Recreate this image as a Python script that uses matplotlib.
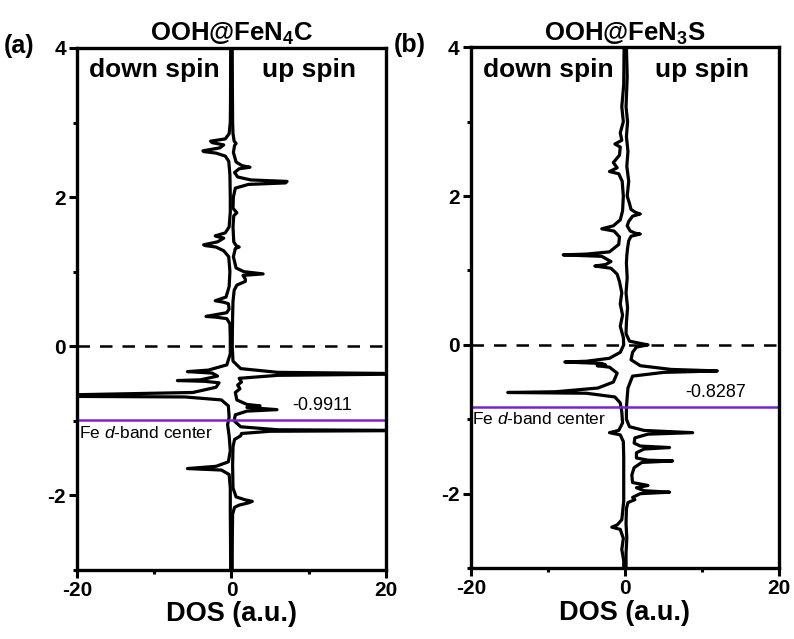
import numpy as np
import matplotlib
matplotlib.use("Agg")
import matplotlib.pyplot as plt
from matplotlib.ticker import MultipleLocator

plt.rcParams['font.family'] = ['Liberation Sans', 'DejaVu Sans']
plt.rcParams['mathtext.fontset'] = 'custom'
plt.rcParams['mathtext.rm'] = 'Liberation Sans'
plt.rcParams['mathtext.bf'] = 'Liberation Sans:bold'
plt.rcParams['mathtext.it'] = 'Liberation Sans:italic'
plt.rcParams['axes.unicode_minus'] = False

#%% Datos

# Panel (a): OOH@FeN4C
e_a_up = [4.0, 3.5, 3.0, 2.85, 2.75, 2.72, 2.69, 2.6, 2.47, 2.42, 2.40, 2.38, 2.33, 2.27, 2.23, 2.21,
          2.19, 2.17, 2.12, 2.0, 1.85, 1.79, 1.75, 1.6, 1.4, 1.35, 1.33, 1.31, 1.2, 1.05, 1.0, 0.97,
          0.95, 0.90, 0.87, 0.82, 0.75, 0.6, 0.4, 0.2, 0.0, -0.2, -0.3, -0.35, -0.37, -0.39, -0.43,
          -0.48, -0.52, -0.57, -0.62, -0.72, -0.78, -0.80, -0.82, -0.85, -0.87, -0.92, -1.0, -1.08,
          -1.12, -1.13, -1.14, -1.17, -1.2, -1.25, -1.35, -1.6, -1.9, -2.02, -2.06, -2.08, -2.10,
          -2.13, -2.16, -2.25, -2.5, -2.8, -3.0]
dos_a_up = [0.1, 0.12, 0.15, 0.2, 0.35, 0.6, 0.4, 0.25, 0.6, 1.4, 2.4, 1.0, 0.4, 0.8, 2.5, 7.2,
            7.0, 2.2, 0.5, 0.25, 0.2, 0.7, 0.3, 0.2, 0.3, 0.6, 1.0, 0.5, 0.25, 0.6, 1.6, 4.1,
            1.5, 1.8, 1.8, 0.7, 0.35, 0.2, 0.15, 0.12, 0.1, 0.2, 1.2, 6, 25, 6, 1.0,
            1.3, 0.8, 1.1, 0.5, 0.7, 2.0, 3.7, 2.0, 5.9, 2.0, 0.5, 0.35, 1.2,
            6, 25, 5, 1.3, 1.2, 0.4, 0.2, 0.15, 0.2, 0.6, 1.8, 2.7, 2.2,
            1.0, 0.4, 0.15, 0.12, 0.1, 0.1]

e_a_dn = [4.0, 3.3, 3.0, 2.85, 2.78, 2.75, 2.73, 2.70, 2.66, 2.62, 2.61, 2.59, 2.55, 2.48, 2.3, 2.0,
          1.8, 1.6, 1.52, 1.48, 1.47, 1.45, 1.40, 1.36, 1.35, 1.33, 1.28, 1.2, 1.0, 0.8, 0.66, 0.61,
          0.59, 0.57, 0.5, 0.45, 0.40, 0.39, 0.37, 0.3, 0.1, -0.1, -0.25, -0.32, -0.34, -0.36, -0.40,
          -0.45, -0.46, -0.47, -0.49, -0.55, -0.62, -0.66, -0.67, -0.68, -0.72, -0.8, -0.95, -1.05,
          -1.2, -1.4, -1.55, -1.61, -1.64, -1.66, -1.72, -1.9, -2.2, -2.6, -3.0]
dos_a_dn = [-0.1, -0.12, -0.15, -0.3, -0.8, -2.7, -2.5, -1.0, -1.5, -3.7, -3.6, -2.0, -0.8, -0.35, -0.2, -0.15,
            -0.15, -0.3, -0.8, -2.1, -1.8, -1.0, -1.8, -3.6, -3.4, -2.0, -1.0, -0.35, -0.2, -0.3, -0.7, -2.1,
            -1.0, -0.4, -0.3, -0.6, -3.3, -2.0, -0.6, -0.2, -0.15, -0.15, -0.6, -3.0, -5.7, -2.5, -1.8,
            -4, -7, -3.5, -1.6, -2.0, -5, -25, -25, -6, -1.3, -0.4, -0.3, -0.5,
            -0.3, -0.15, -0.4, -2.0, -5.7, -1.3, -0.3, -0.15, -0.15, -0.12, -0.1]

dband_a = -0.9911

# Panel (b): OOH@FeN3S
e_b_up = [4.0, 3.6, 3.2, 3.0, 2.8, 2.6, 2.4, 2.2, 2.0, 1.9, 1.82, 1.78, 1.76, 1.73, 1.66, 1.6,
          1.53, 1.50, 1.49, 1.46, 1.4, 1.3, 1.2, 1.1, 0.9, 0.7, 0.5, 0.3, 0.15, 0.05, 0.02, 0.0,
          -0.03, -0.1, -0.2, -0.28, -0.33, -0.35, -0.37, -0.42, -0.5, -0.58, -0.7, -0.85, -1.0,
          -1.1, -1.15, -1.18, -1.2, -1.25, -1.32, -1.36, -1.38, -1.40, -1.45, -1.52, -1.55, -1.56,
          -1.58, -1.65, -1.75, -1.85, -1.89, -1.92, -1.96, -1.98, -2.0, -2.05, -2.08, -2.12, -2.2,
          -2.4, -2.6, -2.8, -3.0]
dos_b_up = [0.2, 0.3, 0.15, 0.35, 0.2, 0.4, 0.25, 0.5, 0.3, 0.6, 0.8, 1.4, 2.0, 1.0, 0.5, 0.3,
            0.7, 1.4, 2.0, 0.8, 0.5, 0.35, 0.25, 0.2, 0.3, 0.15, 0.35, 0.2, 0.15, 0.6, 2.0, 3.0,
            1.5, 1.0, 0.8, 2.0, 6.0, 12.0, 5.0, 1.0, 0.7, 0.4, 0.3, 0.2, 0.2,
            0.6, 2.5, 8.8, 3.0, 1.3, 1.2, 2.0, 5.8, 2.5, 1.5, 1.5, 3.0, 6.2,
            2.2, 1.2, 0.9, 1.0, 3.0, 1.5, 2.5, 5.8, 2.0, 1.0, 1.3, 0.4, 0.2,
            0.15, 0.25, 0.15, 0.15]

e_b_dn = [4.0, 3.5, 3.2, 3.0, 2.85, 2.75, 2.70, 2.66, 2.55, 2.45, 2.38, 2.33, 2.30, 2.2, 2.0, 1.8,
          1.68, 1.6, 1.56, 1.53, 1.45, 1.35, 1.25, 1.22, 1.21, 1.19, 1.12, 1.08, 1.06, 1.03, 0.95,
          0.85, 0.7, 0.55, 0.4, 0.25, 0.1, 0.0, -0.1, -0.18, -0.22, -0.23, -0.25, -0.27, -0.28,
          -0.30, -0.38, -0.5, -0.58, -0.63, -0.64, -0.65, -0.7, -0.78, -0.9, -1.05, -1.15, -1.18,
          -1.21, -1.3, -1.5, -1.8, -2.1, -2.35, -2.42, -2.45, -2.48, -2.6, -2.75, -2.9, -3.0]
dos_b_dn = [-0.1, -0.15, -0.4, -0.2, -0.6, -0.4, -1.3, -0.6, -0.7, -1.5, -1.0, -2.0, -0.8, -0.35, -0.2, -0.3,
            -0.6, -1.5, -3.0, -1.4, -0.7, -0.8, -2.0, -5.0, -8.0, -3.0, -1.8, -2.5, -3.9, -1.8, -1.0,
            -0.7, -0.4, -0.6, -0.3, -0.6, -0.2, -0.15, -0.6, -2.0, -5.0, -7.8, -3.0, -2.5, -3.6,
            -2.0, -1.0, -1.5, -3.5, -9.0, -15.2, -5.0, -1.3, -0.6, -0.4, -0.3, -0.8, -2.0,
            -0.6, -0.2, -0.15, -0.15, -0.15, -0.4, -1.0, -1.7, -0.6, -0.2, -0.4, -0.15, -0.15]

dband_b = -0.8287

titulos = [r'OOH@FeN$_\mathbf{4}$C', r'OOH@FeN$_\mathbf{3}$S']
etiquetas = ['(a)', '(b)']

morado = '#7B22D6'


#%% Funcion para dibujar cada panel
def panel(ax, e_up, d_up, e_dn, d_dn, dband, titulo):
    ax.plot(d_up, e_up, color='k', lw=2.3, solid_joinstyle='round')
    ax.plot(d_dn, e_dn, color='k', lw=2.3, solid_joinstyle='round')
    ax.axhline(0, color='k', lw=1.8, ls=(0, (5, 4)))
    ax.axhline(dband, color=morado, lw=1.8)

    ax.set_xlim(-20, 20)
    ax.set_ylim(-3, 4)
    ax.xaxis.set_major_locator(MultipleLocator(20))
    ax.xaxis.set_minor_locator(MultipleLocator(10))
    ax.yaxis.set_major_locator(MultipleLocator(2))
    ax.yaxis.set_minor_locator(MultipleLocator(1))
    ax.tick_params(which='major', direction='out', length=6, width=2.2, pad=2)
    ax.tick_params(which='minor', direction='out', length=3, width=2.2)
    for s in ax.spines.values():
        s.set_linewidth(2.4)
    for lab in ax.get_xticklabels() + ax.get_yticklabels():
        lab.set_fontweight('bold')
        lab.set_fontsize(15)

    ax.set_xlabel('DOS (a.u.)', fontweight='bold', fontsize=19.5, labelpad=1)
    ax.set_title(titulo, fontweight='bold', fontsize=18.5, pad=5)

    ax.text(-10, 3.7, 'down spin', ha='center', va='center', fontweight='bold', fontsize=19)
    ax.text(10, 3.7, 'up spin', ha='center', va='center', fontweight='bold', fontsize=19)
    ax.text(11.8, dband + 0.08, '%.4f' % dband, ha='center', va='bottom', fontsize=13)
    ax.text(-19.8, dband - 0.06, 'Fe $\\mathit{d}$-band center', ha='left', va='top', fontsize=12.5)


#%% Grafica
fig = plt.figure(figsize=(7.94, 6.39), dpi=100)
ax1 = fig.add_axes([0.097, 0.108, 0.389, 0.817])
ax2 = fig.add_axes([0.593, 0.111, 0.388, 0.815])

panel(ax1, e_a_up, dos_a_up, e_a_dn, dos_a_dn, dband_a, titulos[0])
panel(ax2, e_b_up, dos_b_up, e_b_dn, dos_b_dn, dband_b, titulos[1])

fig.text(0.005, 0.928, etiquetas[0], fontweight='bold', fontsize=18, va='center', ha='left')
fig.text(0.496, 0.930, etiquetas[1], fontweight='bold', fontsize=18, va='center', ha='left')

fig.savefig('out.png', dpi=100)
